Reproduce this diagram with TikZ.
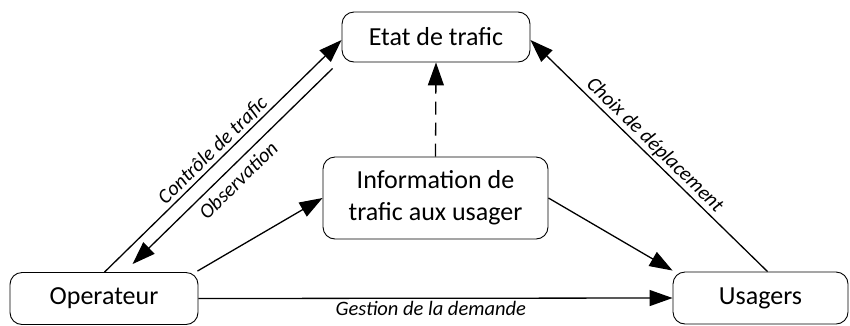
\documentclass[tikz,border=0pt]{standalone}
\usepackage{fontspec}
\setmainfont{Carlito}
\usetikzlibrary{arrows.meta,calc}
\begin{document}
\begin{tikzpicture}[x=1pt,y=-1pt,
  box/.style={draw,line width=0.9pt,rounded corners=12pt,align=center,
    font=\fontsize{26}{32}\selectfont,inner sep=0pt},
  conn/.style={line width=1.3pt,-{Triangle[length=23pt,width=16pt]}},
  lab/.style={font=\fontsize{20.5}{24}\itshape,inner sep=2pt}]
\useasboundingbox (0,0) rectangle (850,325);
\node[box,minimum width=188pt,minimum height=50pt] (et) at (436,37) {Etat de trafic};
\node[box,minimum width=188pt,minimum height=52pt] (op) at (104,298.5) {Operateur};
\node[box,minimum width=175pt,minimum height=52pt] (us) at (760.5,298) {Usagers};
\node[box,minimum width=225pt,minimum height=82pt] (info) at (435.5,198) {Information de\\trafic aux usager};
% Controle de trafic
\draw[conn] ($(op.north west)+(95,0)$) -- node[lab,sloped,above,pos=0.49]{Contrôle de trafic} ($(et.west)+(0,3)$);
% Observation
\draw[conn] ($(et.south west)+(-9,6)$) -- node[lab,sloped,below=4pt,pos=0.52]{Observation} ($(op.north west)+(123,-8)$);
% Operateur -> Info
\draw[conn] ($(op.north east)+(-1,-1)$) -- (info.west);
% Info -> Usagers
\draw[conn] (info.east) -- ($(us.north west)+(0,-1)$);
% Gestion
\draw[conn] (op.east) -- node[lab,below,pos=0.49]{Gestion de la demande} (us.west);
% Choix
\draw[conn] ($(us.north)+(7,0)$) -- node[lab,sloped,above,pos=0.51]{Choix de déplacement} ($(et.east)+(0,3)$);
% dashed
\draw[conn,dash pattern=on 13pt off 8pt] (info.north) -- (et.south);
\end{tikzpicture}
\end{document}
